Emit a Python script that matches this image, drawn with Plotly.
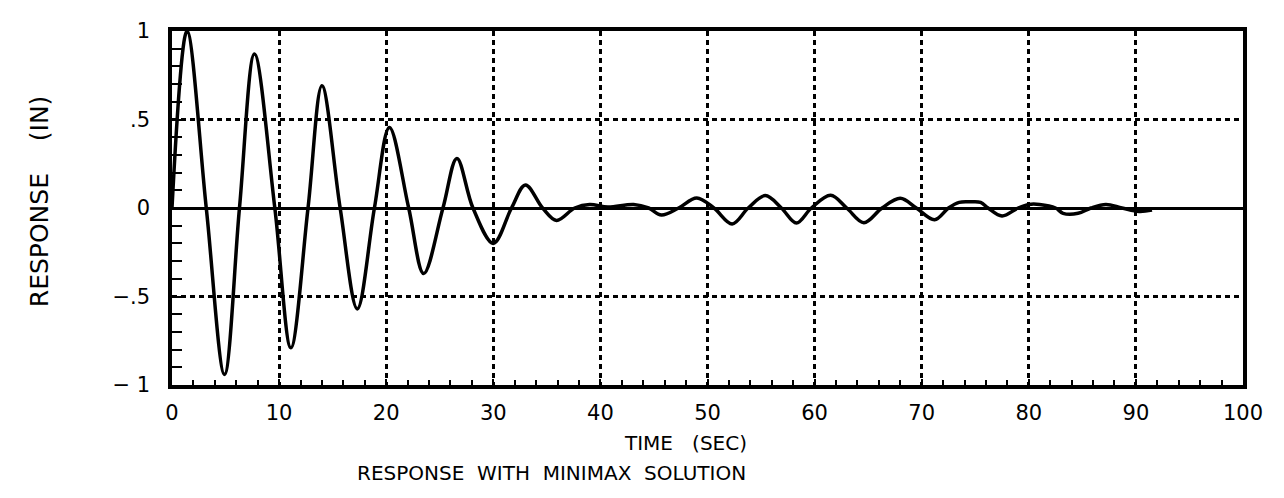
import plotly.graph_objects as go

# Time (s) and response (in): extremes and zero crossings
time_s = [0, 1.4, 3.2, 4.9, 6.3, 7.7, 9.6, 11.1, 12.7, 14.0, 15.7, 17.3, 18.9, 20.3,
          22.1, 23.5, 25.3, 26.6, 28.1, 30.0, 31.7, 33.0, 34.6, 35.9, 37.6, 39.0,
          40.7, 43.1, 44.5, 45.7, 47.3, 49.0, 50.6, 52.3, 53.8, 55.4, 56.9, 58.3,
          59.7, 61.5, 63.0, 64.6, 66.3, 68.0, 69.5, 71.2, 72.5, 73.5, 74.5, 75.5,
          76.2, 77.5, 79.0, 80.0, 81.0, 82.5, 83.2, 84.6, 85.8, 87.2, 88.7, 90.3, 91.5]
response_in = [0, 1.0, 0, -0.94, 0, 0.87, 0, -0.79, 0, 0.69, 0, -0.57, 0, 0.455,
               0, -0.37, 0, 0.28, 0, -0.20, 0, 0.13, 0, -0.07, 0, 0.02,
               0.005, 0.02, 0, -0.04, 0, 0.057, 0, -0.09, 0, 0.07, 0, -0.085,
               0, 0.072, 0, -0.083, 0, 0.055, 0, -0.066, 0, 0.032, 0.035, 0.032,
               0, -0.045, 0, 0.02, 0.02, 0, -0.03, -0.03, 0, 0.02, 0, -0.02, -0.012]

x_ticks = [0, 10, 20, 30, 40, 50, 60, 70, 80, 90, 100]
x_tick_labels = ["0", "10", "20", "30", "40", "50", "60", "70", "80", "90", "100"]
y_ticks = [-1, -0.5, 0, 0.5, 1]
y_tick_labels = ["\u2212 1", "\u2212.5", "0", ".5", "1"]

FONT = "DejaVu Sans"
NB = "\u00a0"

fig = go.Figure()
fig.add_trace(go.Scatter(
    x=time_s, y=response_in, mode="lines",
    line=dict(color="black", width=3.5, shape="spline", smoothing=1.0),
    showlegend=False, hoverinfo="skip",
))

fig.update_layout(
    width=1284, height=498,
    margin=dict(l=164, r=49, t=23, b=121),
    paper_bgcolor="white", plot_bgcolor="white",
    font=dict(family=FONT, color="black", size=18),
    showlegend=False,
)

fig.update_xaxes(
    range=[0, 100], tickvals=x_ticks, ticktext=x_tick_labels,
    showline=True, linecolor="black", linewidth=3.5, mirror=True,
    ticks="inside", ticklen=6, tickwidth=2, tickcolor="black",
    minor=dict(dtick=2, ticks="inside", ticklen=5, tickwidth=2, tickcolor="black", showgrid=False),
    showgrid=True, gridcolor="black", gridwidth=2.5, griddash="5px,4px",
    zeroline=False, ticklabelstandoff=6,
    tickfont=dict(family=FONT, size=21),
)
fig.update_yaxes(
    range=[-1, 1], tickvals=y_ticks, ticktext=y_tick_labels,
    showline=True, linecolor="black", linewidth=3.5, mirror=True,
    ticks="inside", ticklen=10, tickwidth=2, tickcolor="black",
    minor=dict(dtick=0.1, ticks="inside", ticklen=10, tickwidth=2, tickcolor="black", showgrid=False),
    showgrid=True, gridcolor="black", gridwidth=2.5, griddash="5px,4px",
    zeroline=True, zerolinecolor="black", zerolinewidth=2.5,
    ticklabelstandoff=14,
    tickfont=dict(family=FONT, size=21),
)

fig.add_annotation(text="RESPONSE" + NB * 4 + "(IN)", xref="paper", yref="paper",
                   x=-0.123, y=0.52, showarrow=False, textangle=-90,
                   font=dict(family=FONT, size=25), xanchor="center", yanchor="middle")
fig.add_annotation(text="TIME" + NB * 3 + "(SEC)", xref="paper", yref="paper",
                   x=0.479, y=-0.164, showarrow=False,
                   font=dict(family=FONT, size=20), xanchor="center", yanchor="middle")
fig.add_annotation(text=("RESPONSE" + NB * 2 + "WITH" + NB * 2 + "MINIMAX" + NB * 2 + "SOLUTION"),
                   xref="paper", yref="paper", x=0.354, y=-0.249, showarrow=False,
                   font=dict(family=FONT, size=20), xanchor="center", yanchor="middle")

fig.write_html("out.html")
